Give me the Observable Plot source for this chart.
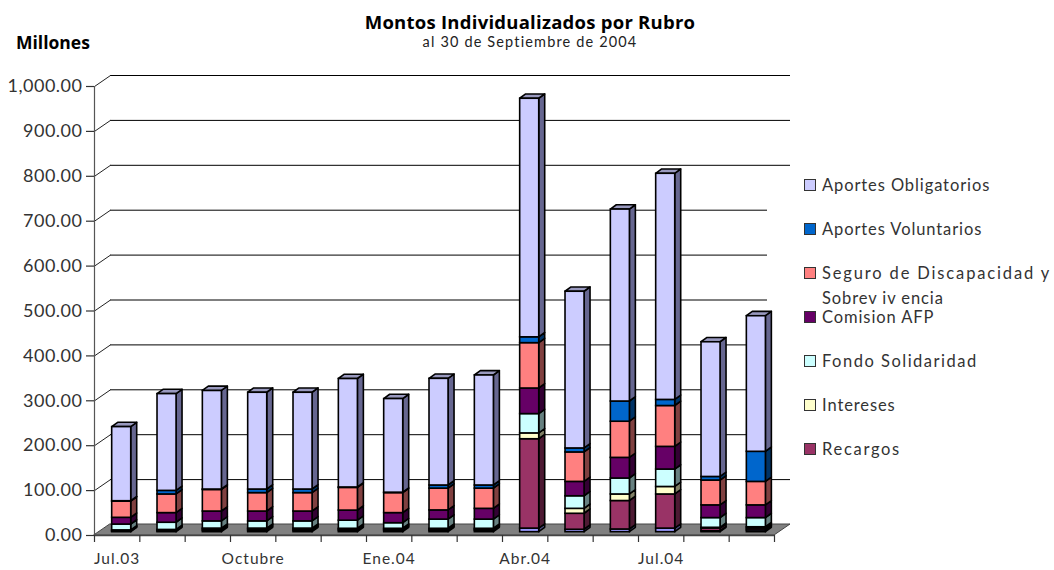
<!DOCTYPE html>
<html lang="es">
<head>
<meta charset="utf-8">
<script src="https://cdn.jsdelivr.net/npm/d3@7"></script>
<script src="https://cdn.jsdelivr.net/npm/@observablehq/plot@0.6"></script>
<style>
  html, body { margin: 0; padding: 0; background: #fff; }
  #page { position: relative; width: 1054px; height: 570px; overflow: hidden; }
  .t { position: absolute; white-space: nowrap; color: #000; }
  #title { left: 0; width: 1060px; top: 10px; text-align: center; font: bold 18.5px "Open Sans", sans-serif; letter-spacing: .25px; line-height: 24px; }
  #subtitle { left: 0; width: 1060px; top: 33px; text-align: center; font: 14.5px Lato, sans-serif; letter-spacing: 1.15px; line-height: 18px; color: #222; }
  #unit { left: 16px; top: 31px; font: bold 17.5px "Open Sans", sans-serif; line-height: 22px; }
  .sw { position: absolute; left: 804px; width: 10px; height: 10px; border: 1.5px solid #333; }
  .lg { position: absolute; left: 822px; font: 16.5px Lato, sans-serif; letter-spacing: .9px; line-height: 20px; color: #333; white-space: nowrap; }
  svg text { letter-spacing: .5px; }
  svg .xlabels text { letter-spacing: 1px; }
</style>
</head>
<body>
<div id="page">
  <div class="t" id="title">Montos Individualizados por Rubro</div>
  <div class="t" id="subtitle">al 30 de Septiembre de 2004</div>
  <div class="t" id="unit">Millones</div>
</div>
<script>
const months = ["Jul.03","Ago.03","Sep.03","Octubre","Nov.03","Dic.03","Ene.04","Feb.04","Mar.04","Abr.04","May.04","Jun.04","Jul.04","Ago.04","Sep.04"];
const labelledMonths = ["Jul.03","Octubre","Ene.04","Abr.04","Jul.04"];

const otros        = [1,1.5,3,3,3,3,3,3,3,8,5.4,6,8,2,4];
const recargos     = [1.5,2,3,3,3,2.6,2.6,2.6,2.6,199,35.6,63.4,76,6,4];
const intereses    = [1.5,1.5,2,2,2,2,2,2,2,13,11,14.6,16.7,1.8,3];
const fondo        = [13,16,16,16,16,18,12.4,20.4,20.4,43,28,35.5,38.8,21.6,20.4];
const comision     = [15,21.5,22,22,22,22.5,22.5,20.5,24,57,32,46,50.5,28.3,28.3];
const seguro       = [36,41.5,48,41,41,50.5,44.5,48.5,45,101,65.6,80.5,91,55.3,52.3];
const voluntarios  = [1,8,1,8,8,1,1,7,7,13,8.9,45,13.6,8,67];
const obligatorios = [165,215.5,219.5,215.5,215.5,241.5,208.5,237.5,245,531.3,349,427.5,503.6,300,302];

const legendLabels = ["Aportes Obligatorios","Aportes Voluntarios","Seguro de Discapacidad y","Comision AFP","Fondo Solidaridad","Intereses","Recargos"];
const legendContinuation = "Sobrev iv encia";
const yTicks = [0,100,200,300,400,500,600,700,800,900,1000];

const palette = {
  otros: ["#9999FF","#4D4D80"], recargos: ["#993366","#4D1A33"], intereses: ["#FFFFCC","#808066"],
  fondo: ["#CCFFFF","#668080"], comision: ["#660066","#330033"], seguro: ["#FF8080","#804040"],
  voluntarios: ["#0066CC","#003366"], obligatorios: ["#CCCCFF","#666690"]
};
const stackOrder = [
  ["otros", otros], ["recargos", recargos], ["intereses", intereses], ["fondo", fondo],
  ["comision", comision], ["seguro", seguro], ["voluntarios", voluntarios], ["obligatorios", obligatorios]
];
const legendColors = ["obligatorios","voluntarios","seguro","comision","fondo","intereses","recargos"].map(k => palette[k][0]);

// oblique projection, expressed in scale units
const pxPerMonth = 680 / months.length, pxPerUnit = 449 / 1000;
const wallX = 16 / pxPerMonth, wallY = 11 / pxPerUnit;
const barLeft = 0.39, barWidth = 0.42, barDepthX = 0.132, barDepthY = 9.6, barBase = 7.4;
// wall lines stop short where the legend panel sits; the top three and the 100 line run the full depth
const gridEnd = d => (d >= 800 || d === 100) ? months.length + wallX : 673 / pxPerMonth;

const fronts = [], sides = [], tops = [];
months.forEach((m, i) => {
  let cum = barBase;
  stackOrder.forEach(([name, values], k) => {
    const lo = cum, hi = cum + values[i];
    cum = hi;
    const L = i + barLeft, R = L + barWidth;
    const [front, side] = palette[name];
    fronts.push({x1: L, x2: R, y1: lo, y2: hi, c: front});
    sides.push({key: `${i}-${k}`, x: R, y1: lo, y2: hi, c: side});
    sides.push({key: `${i}-${k}`, x: R + barDepthX, y1: lo + barDepthY, y2: hi + barDepthY, c: side});
    if (k === stackOrder.length - 1) {
      tops.push({key: `t${i}`, x1: L, y1: hi, x2: L + barDepthX, y2: hi + barDepthY, c: "#9999BF"});
      tops.push({key: `t${i}`, x1: R, y1: hi, x2: R + barDepthX, y2: hi + barDepthY, c: "#9999BF"});
    }
  });
});

const floor = [
  {x1: 0, y1: 0, x2: wallX, y2: wallY},
  {x1: months.length, y1: 0, x2: months.length + wallX, y2: wallY}
];

const edge = {stroke: "#000", strokeWidth: 1.6};
const chart = Plot.plot({
  width: 1054,
  height: 570,
  marginLeft: 94,
  marginRight: 280,
  marginTop: 86,
  marginBottom: 35,
  style: {background: "transparent", fontFamily: "Lato, sans-serif", overflow: "visible", color: "#333"},
  x: {type: "linear", domain: [0, months.length], axis: null},
  y: {domain: [0, 1000], axis: null},
  marks: [
    Plot.ruleY(yTicks, {y: d => d + wallY, x1: wallX, x2: gridEnd, stroke: "#000", strokeWidth: 1}),
    Plot.link(yTicks, {x1: 0, y1: d => d, x2: wallX, y2: d => d + wallY, stroke: "#222", strokeWidth: 1}),
    Plot.area(floor, {x1: "x1", y1: "y1", x2: "x2", y2: "y2", fill: "#808080", stroke: "#444", strokeWidth: 1}),
    Plot.ruleX([0], {y1: 0, y2: 1000, stroke: "#555", strokeWidth: 1.2}),
    Plot.ruleY([0], {x1: 0, x2: months.length, stroke: "#444", strokeWidth: 1.5}),
    Plot.area(sides, {x1: "x", x2: "x", y1: "y1", y2: "y2", z: "key", fill: {value: "c", scale: null}, ...edge}),
    Plot.area(tops, {x1: "x1", y1: "y1", x2: "x2", y2: "y2", z: "key", fill: {value: "c", scale: null}, ...edge}),
    Plot.rect(fronts, {x1: "x1", x2: "x2", y1: "y1", y2: "y2", fill: {value: "c", scale: null}, ...edge}),
    Plot.axisY({
      ticks: yTicks, tickFormat: d3.format(",.2f"), tickSize: 8, tickPadding: 4,
      fontSize: 18, stroke: "#333", strokeWidth: 1.2, fill: "#333"
    }),
    Plot.axisX({
      ticks: d3.range(months.length + 1), tickFormat: () => "", tickSize: 7, stroke: "#333", strokeWidth: 1.2
    }),
    Plot.axisX({
      ticks: months.map((m, i) => i + 0.5).filter((d, i) => labelledMonths.includes(months[i])),
      tickFormat: d => months[d - 0.5], tickSize: 0, tickPadding: 17, fontSize: 15.5, fill: "#333", stroke: "none",
      className: "xlabels"
    })
  ]
});
const page = document.getElementById("page");
chart.style.position = "absolute";
chart.style.left = "0";
chart.style.top = "0";
page.prepend(chart);

function legendText(text, y, spacing) {
  const tx = document.createElement("div");
  tx.className = "lg";
  tx.style.top = (y - 10) + "px";
  if (spacing) tx.style.letterSpacing = spacing;
  tx.textContent = text;
  page.append(tx);
}
legendLabels.forEach((label, i) => {
  const y = 185 + 44 * i;
  const sw = document.createElement("div");
  sw.className = "sw";
  sw.style.top = (y - 6.5) + "px";
  sw.style.background = legendColors[i];
  page.append(sw);
  legendText(label, y, i === 2 ? "1.85px" : i === 4 ? "1.5px" : i === 6 ? "1.7px" : null);
});
legendText(legendContinuation, 298);
</script>
</body>
</html>
